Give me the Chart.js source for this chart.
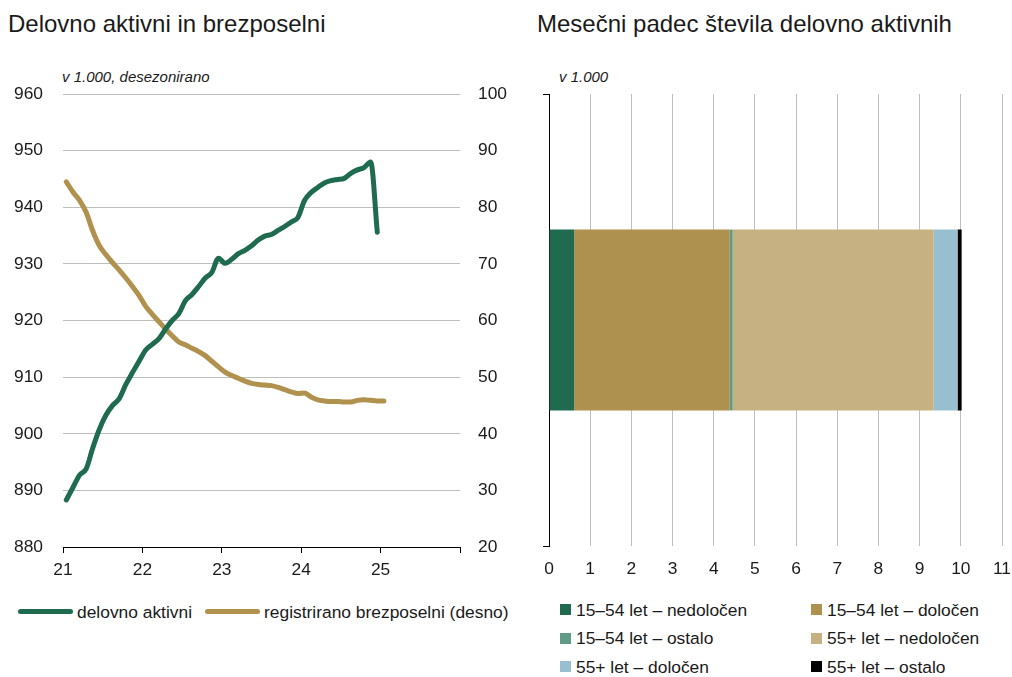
<!DOCTYPE html>
<html>
<head>
<meta charset="utf-8">
<script src="https://cdn.jsdelivr.net/npm/chart.js@4.4.0/dist/chart.umd.min.js"></script>
<style>
  body { margin: 0; width: 1012px; height: 677px; background: #fff; position: relative; overflow: hidden;
         font-family: 'Liberation Sans', Arial, sans-serif; color: #1a1a1a; }
  .title { position: absolute; top: 10px; font-size: 24px; white-space: nowrap; }
  .sub { position: absolute; top: 68px; font-size: 15px; font-style: italic; white-space: nowrap; }
  canvas { position: absolute; top: 0; }
  .lg { position: absolute; font-size: 17.4px; line-height: 20px; white-space: nowrap; }
  .sw { position: absolute; }
</style>
</head>
<body>
<div class="title" style="left:8px">Delovno aktivni in brezposelni</div>
<div class="title" style="left:537px">Mesečni padec števila delovno aktivnih</div>
<div class="sub" style="left:62px">v 1.000, desezonirano</div>
<div class="sub" style="left:559px">v 1.000</div>

<canvas id="levo" width="520" height="600" style="left:0"></canvas>
<canvas id="desno" width="492" height="600" style="left:520px"></canvas>

<div class="sw" style="left:18px;top:609px;width:55px;height:5px;border-radius:3px;background:#1f6b4f"></div>
<div class="lg" style="left:77px;top:602px">delovno aktivni</div>
<div class="sw" style="left:205px;top:609px;width:55px;height:5px;border-radius:3px;background:#b0914e"></div>
<div class="lg" style="left:264px;top:602px">registrirano brezposelni (desno)</div>

<div id="legendaDesno"></div>

<script>
// mesečni podatki od januarja 2021 (v 1.000)
const delovnoAktivni = [
  888.3, 890.5, 892.7, 893.8, 897.5, 900.8, 903.3, 905.0, 906.2, 908.7, 910.8, 912.8,
  914.8, 915.8, 916.8, 918.5, 920.0, 921.2, 923.5, 924.6, 926.0, 927.5, 928.5, 931.0,
  930.1, 930.8, 931.8, 932.4, 933.2, 934.2, 934.9, 935.2, 935.9, 936.6, 937.4, 938.2,
  941.2, 942.6, 943.5, 944.3, 944.7, 944.9, 945.1, 946.0, 946.6, 947.0, 948.0, 935.6
];
const brezposelni = [
  84.5, 82.7, 81.2, 79.1, 75.8, 73.2, 71.6, 70.2, 68.9, 67.5, 66.0, 64.4,
  62.5, 61.1, 59.8, 58.5, 57.3, 56.2, 55.7, 55.1, 54.5, 53.8, 52.8, 51.8,
  50.9, 50.3, 49.8, 49.3, 48.9, 48.7, 48.6, 48.5, 48.2, 47.8, 47.4, 47.1,
  47.2, 46.5, 46.0, 45.8, 45.7, 45.7, 45.6, 45.6, 45.9, 46.0, 45.9, 45.8,
  45.8
];
const leta = [21, 22, 23, 24, 25];

// padec delovno aktivnih po skupinah
const skupine = [
  '15–54 let – nedoločen', '15–54 let – določen', '15–54 let – ostalo',
  '55+ let – nedoločen', '55+ let – določen', '55+ let – ostalo'
];
const padec = [0.61, 3.78, 0.07, 4.88, 0.58, 0.10];
const barve = ['#206a4f', '#ae914f', '#5f9b87', '#c5b181', '#98bfcf', '#000000'];

const tickFont = { family: "'Liberation Sans', Arial, sans-serif", size: 17.4 };
const tickColor = '#1a1a1a';

// mesec i -> sredina meseca na letni osi
const xLeto = i => 21 + (i + 0.5) / 12;

new Chart(document.getElementById('levo'), {
  type: 'line',
  data: {
    datasets: [
      {
        label: 'delovno aktivni',
        data: delovnoAktivni.map((v, i) => ({ x: xLeto(i), y: v })),
        borderColor: '#1f6b4f',
        borderWidth: 5,
        pointRadius: 0,
        cubicInterpolationMode: 'monotone',
        borderCapStyle: 'round',
        borderJoinStyle: 'round',
        yAxisID: 'y'
      },
      {
        label: 'registrirano brezposelni (desno)',
        data: brezposelni.map((v, i) => ({ x: xLeto(i), y: v })),
        borderColor: '#b0914e',
        borderWidth: 5,
        pointRadius: 0,
        cubicInterpolationMode: 'monotone',
        borderCapStyle: 'round',
        borderJoinStyle: 'round',
        yAxisID: 'y2'
      }
    ]
  },
  options: {
    responsive: false,
    animation: false,
    layout: { padding: { top: 94, left: 0, right: 0, bottom: 0 } },
    plugins: { legend: { display: false }, tooltip: { enabled: false } },
    scales: {
      x: {
        type: 'linear', min: 21, max: 26,
        ticks: {
          stepSize: 1, font: tickFont, color: tickColor, padding: 7, maxRotation: 0,
          callback: v => leta.includes(v) ? String(v) : ''
        },
        grid: { drawOnChartArea: false, color: '#000', tickLength: 6 },
        border: { color: '#000', width: 1 },
        afterFit: s => { s.height = 53; }
      },
      y: {
        position: 'left', min: 880, max: 960,
        ticks: { stepSize: 10, font: tickFont, color: tickColor, padding: 20 },
        grid: { color: c => c.tick && c.tick.value === 880 ? 'rgba(0,0,0,0)' : '#bfbfbf', drawTicks: false },
        border: { display: false },
        afterFit: s => { s.width = 63; }
      },
      y2: {
        position: 'right', min: 20, max: 100,
        ticks: { stepSize: 10, font: tickFont, color: tickColor, padding: 18 },
        grid: { display: false, drawTicks: false },
        border: { display: false },
        afterFit: s => { s.width = 60; }
      }
    }
  }
});

new Chart(document.getElementById('desno'), {
  type: 'bar',
  data: {
    labels: ['padec'],
    datasets: skupine.map((s, i) => ({
      label: s,
      data: [padec[i]],
      backgroundColor: barve[i],
      borderWidth: 0,
      barPercentage: 0.4,
      categoryPercentage: 1
    }))
  },
  options: {
    indexAxis: 'y',
    responsive: false,
    animation: false,
    layout: { padding: { top: 94, left: 0, right: 10, bottom: 0 } },
    plugins: { legend: { display: false }, tooltip: { enabled: false } },
    scales: {
      x: {
        type: 'linear', min: 0, max: 11, stacked: true,
        ticks: { stepSize: 1, font: tickFont, color: tickColor, padding: 13, maxRotation: 0 },
        grid: { color: c => c.tick && c.tick.value === 0 ? 'rgba(0,0,0,0)' : '#bfbfbf', drawTicks: false },
        border: { display: false },
        afterFit: s => { s.height = 54; s.paddingLeft = 0; s.paddingRight = 0; }
      },
      y: {
        stacked: true,
        ticks: { display: false },
        grid: { drawOnChartArea: false, color: '#000', tickLength: 6 },
        border: { color: '#000', width: 1 },
        afterFit: s => { s.width = 29; }
      }
    }
  }
});

// legenda desno, dva stolpca
const leg = document.getElementById('legendaDesno');
skupine.forEach((s, i) => {
  const col = i % 2, row = Math.floor(i / 2);
  const x = col === 0 ? 560 : 811;
  const y = 604 + row * 28.5;
  leg.insertAdjacentHTML('beforeend',
    `<div class="sw" style="left:${x}px;top:${y}px;width:11px;height:11px;background:${barve[i]}"></div>` +
    `<div class="lg" style="left:${x + 16}px;top:${y - 4.5}px">${s}</div>`);
});
</script>
</body>
</html>
